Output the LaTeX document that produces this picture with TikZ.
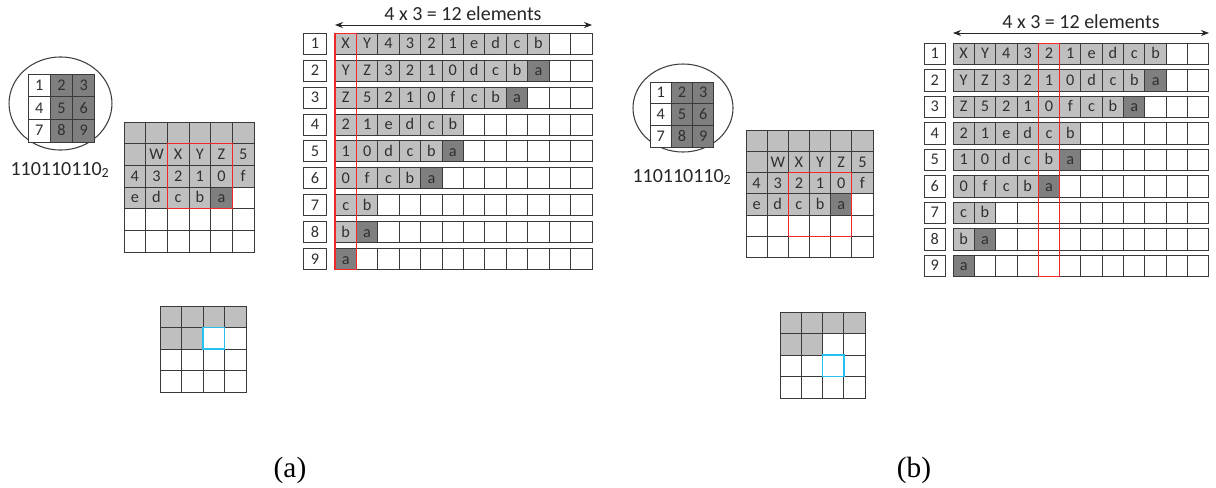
\documentclass[tikz,border=0pt]{standalone}
\usepackage{fontspec}
\setmainfont{Carlito}
\newfontfamily\capserif{Liberation Serif}
\usetikzlibrary{arrows.meta}
\definecolor{cg}{HTML}{BFBFBF}
\definecolor{cd}{HTML}{7F7F7F}
\definecolor{cw}{HTML}{FFFFFF}
\definecolor{lnc}{HTML}{3A3A3A}
\definecolor{txc}{HTML}{303030}
\definecolor{myred}{HTML}{F02828}
\definecolor{mycyan}{HTML}{28C0F0}
\newcommand\cellfont{\fontsize{12.2}{13}\selectfont}
\newcommand\bigfont{\fontsize{15}{17}\selectfont}
% #1 x0, #2 ytop, #3 cell w, #4 cell h, #5 list macro, #6 name prefix
\newcommand\cellrow[6]{%
  \foreach \t/\f [count=\c from 0] in #5 {%
    \draw[cell,fill=\f] (#1+\c*#3,#2) rectangle ++(#3,#4);
    \node[txt] (#6-\c) at (#1+\c*#3+#3/2,#2+#4/2+5) {\t};
  }%
}
\def\tabledata{%
{X/cg,Y/cg,4/cg,3/cg,2/cg,1/cg,e/cg,d/cg,c/cg,b/cg,{}/cw,{}/cw},%
{Y/cg,Z/cg,3/cg,2/cg,1/cg,0/cg,d/cg,c/cg,b/cg,a/cd,{}/cw,{}/cw},%
{Z/cg,5/cg,2/cg,1/cg,0/cg,f/cg,c/cg,b/cg,a/cd,{}/cw,{}/cw,{}/cw},%
{2/cg,1/cg,e/cg,d/cg,c/cg,b/cg,{}/cw,{}/cw,{}/cw,{}/cw,{}/cw,{}/cw},%
{1/cg,0/cg,d/cg,c/cg,b/cg,a/cd,{}/cw,{}/cw,{}/cw,{}/cw,{}/cw,{}/cw},%
{0/cg,f/cg,c/cg,b/cg,a/cd,{}/cw,{}/cw,{}/cw,{}/cw,{}/cw,{}/cw,{}/cw},%
{c/cg,b/cg,{}/cw,{}/cw,{}/cw,{}/cw,{}/cw,{}/cw,{}/cw,{}/cw,{}/cw,{}/cw},%
{b/cg,a/cd,{}/cw,{}/cw,{}/cw,{}/cw,{}/cw,{}/cw,{}/cw,{}/cw,{}/cw,{}/cw},%
{a/cd,{}/cw,{}/cw,{}/cw,{}/cw,{}/cw,{}/cw,{}/cw,{}/cw,{}/cw,{}/cw,{}/cw}}
\def\griddata{%
{{}/cg,{}/cg,{}/cg,{}/cg,{}/cg,{}/cg},%
{{}/cg,W/cg,X/cg,Y/cg,Z/cg,5/cg},%
{4/cg,3/cg,2/cg,1/cg,0/cg,f/cg},%
{e/cg,d/cg,c/cg,b/cg,a/cd,{}/cw},%
{{}/cw,{}/cw,{}/cw,{}/cw,{}/cw,{}/cw},%
{{}/cw,{}/cw,{}/cw,{}/cw,{}/cw,{}/cw}}
\def\smalldata{%
{{}/cg,{}/cg,{}/cg,{}/cg},%
{{}/cg,{}/cg,{}/cw,{}/cw},%
{{}/cw,{}/cw,{}/cw,{}/cw},%
{{}/cw,{}/cw,{}/cw,{}/cw}}
\def\kerneldata{%
{1/cw,2/cd,3/cd},%
{4/cw,5/cd,6/cd},%
{7/cw,8/cd,9/cd}}
% #1 x0, #2 ytop, #3 pitch, #4 w, #5 h, #6 label x0, #7 label w, #8 prefix
\newcommand\mytable[8]{%
  \foreach \data [count=\r] in \tabledata {%
    \pgfmathsetmacro\yt{#2+(\r-1)*#3}%
    \draw[cell,fill=white] (#6,\yt) rectangle ++(#7,#5);
    \node[txt] (#8lab\r) at (#6+#7/2,\yt+#5/2+5) {\r};
    \cellrow{#1}{\yt}{#4}{#5}{\data}{#8r\r}%
  }%
}
% #1 x0, #2 ytop, #3 w, #4 h, #5 data macro, #6 prefix
\newcommand\mygrid[6]{%
  \foreach \data [count=\r] in #5 {%
    \pgfmathsetmacro\yt{#2+(\r-1)*#4}%
    \cellrow{#1}{\yt}{#3}{#4}{\data}{#6r\r}%
  }%
}
\begin{document}
\begin{tikzpicture}[x=0.75pt,y=-0.75pt,
  cell/.style={draw=lnc,line width=0.75pt},
  txt/.style={font=\cellfont,text=txc,inner sep=0pt,anchor=base},
  redbox/.style={draw=myred,line width=1pt},
  cyanbox/.style={draw=mycyan,line width=1pt},
  ring/.style={draw=black!75,line width=0.8pt},
  dimarrow/.style={draw=black!85,line width=0.6pt,{Stealth[length=6pt,width=4.5pt]}-{Stealth[length=6pt,width=4.5pt]}},
  bigtxt/.style={font=\bigfont,text=black!85,inner sep=0pt,anchor=base},
  captxt/.style={font=\capserif\fontsize{22}{24}\selectfont,inner sep=0pt,anchor=base}]
\useasboundingbox[fill=white] (0,0) rectangle (1216,487);

% ================= (a) =================
\draw[ring] (60.5,103.5) ellipse [x radius=38.6pt, y radius=34.9pt];
\mygrid{28}{74}{22.3}{22.7}{\kerneldata}{LK}
\node[bigtxt] (Lbin) at (60,175) {110110110\textsubscript{2}};

\mygrid{124}{122}{21.67}{21.67}{\griddata}{LG}
\draw[redbox] (167.3,143.7) rectangle (232.3,208.7);

\mygrid{160}{306}{21.5}{21.5}{\smalldata}{LS}
\draw[cyanbox] (203,327.5) rectangle (224.5,349);

\mytable{335}{33.3}{26.9}{21.42}{21}{303.3}{23.4}{LT}
\draw[redbox] (335,33.3) rectangle (356.4,269.3);
\coordinate (LA1) at (335,25);
\coordinate (LA2) at (592,25);
\draw[dimarrow] (LA1) -- (LA2);
\node[bigtxt] (Ltitle) at (463,20) {4 x 3 = 12 elements};

\node[captxt] (capa) at (290,477) {(a)};

% ================= (b) =================
\draw[ring] (683,108) ellipse [x radius=37.5pt, y radius=33pt];
\mygrid{650}{82}{21.3}{21.7}{\kerneldata}{RK}
\node[bigtxt] (Rbin) at (682,182) {110110110\textsubscript{2}};

\mygrid{746}{130}{21.17}{21.33}{\griddata}{RG}
\draw[redbox] (788.3,172.7) rectangle (851.8,236.7);

\mygrid{780}{312}{21.3}{21.5}{\smalldata}{RS}
\draw[cyanbox] (822.6,355) rectangle (843.9,376.5);

\mytable{953}{43.3}{26.5}{21.33}{21.3}{924}{21.5}{RT}
\draw[redbox] (1038.3,43.3) rectangle (1059.7,276.6);
\coordinate (RA1) at (953,33);
\coordinate (RA2) at (1209,33);
\draw[dimarrow] (RA1) -- (RA2);
\node[bigtxt] (Rtitle) at (1081,28) {4 x 3 = 12 elements};

\node[captxt] (capb) at (914,477) {(b)};
\end{tikzpicture}
\end{document}
